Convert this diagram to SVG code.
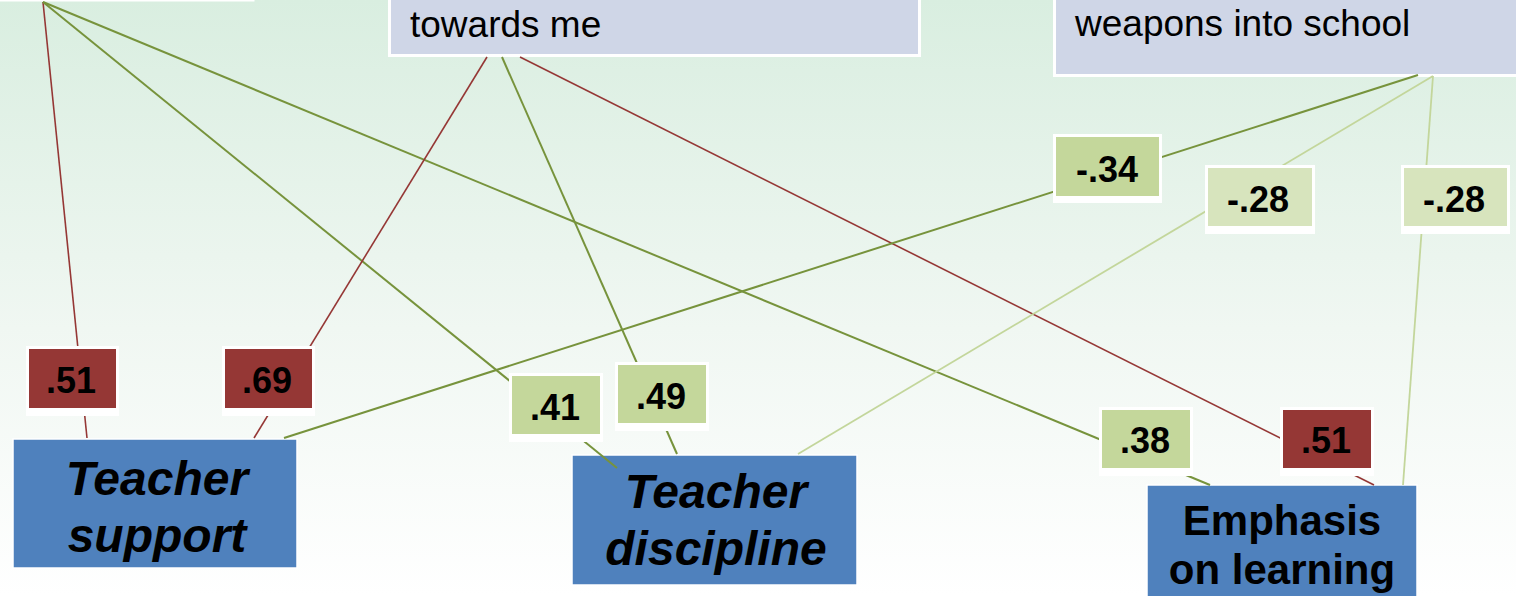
<svg xmlns="http://www.w3.org/2000/svg" width="1516" height="596" viewBox="0 0 1516 596">
  <defs>
    <linearGradient id="bg" x1="0" y1="0" x2="0" y2="1">
      <stop offset="0" stop-color="#D9EEE0"/>
      <stop offset="0.55" stop-color="#F0F7F2"/>
      <stop offset="1" stop-color="#FFFFFF"/>
    </linearGradient>
  </defs>
  <style>
    .src { fill: #CFD6E7; stroke: #FFFFFF; stroke-width: 3; }
    .src-text { font-family: "Liberation Sans", Arial, sans-serif; font-size: 37px; fill: #000; }
    .target { fill: #4F81BD; stroke: #FFFFFF; stroke-width: 1.5; }
    .target-text { font-family: "Liberation Sans", Arial, sans-serif; font-weight: bold; font-size: 48px; fill: #000; text-anchor: middle; }
    .italic { font-style: italic; }
    .small { font-size: 42px; }
    .edge { fill: none; stroke-linecap: butt; }
    .red { stroke: #953735; stroke-width: 1.6; }
    .dark { stroke: #77933C; stroke-width: 2; }
    .light { stroke: #C3D69B; stroke-width: 1.8; }
    .lab-back { fill: #FFFFFF; }
    .lab-red { fill: #953735; }
    .lab-green { fill: #C4D79B; }
    .lab-pale { fill: #D7E4BD; }
    .lab-text { font-family: "Liberation Sans", Arial, sans-serif; font-weight: bold; font-size: 36px; fill: #000; text-anchor: middle; }
  </style>

  <rect x="0" y="0" width="1516" height="596" fill="url(#bg)"/>

  <!-- source items (top) -->
  <g id="node-source-left">
    <rect class="src" x="-5" y="-60" width="258" height="60"/>
  </g>
  <g id="node-source-middle">
    <rect class="src" x="389.5" y="-20" width="530" height="75.5"/>
    <text class="src-text" x="410" y="37">towards me</text>
  </g>
  <g id="node-source-right">
    <rect class="src" x="1054.5" y="-20" width="500" height="95.5"/>
    <text class="src-text" x="1075" y="36">weapons into school</text>
  </g>

  <!-- outcome boxes -->
  <g id="node-teacher-support">
    <rect class="target" x="13" y="439" width="284" height="129"/>
    <text class="target-text italic" x="157" y="495">Teacher</text>
    <text class="target-text italic" x="157" y="552">support</text>
  </g>
  <g id="node-teacher-discipline">
    <rect class="target" x="572" y="455" width="285" height="130"/>
    <text class="target-text italic" x="716" y="508">Teacher</text>
    <text class="target-text italic" x="716" y="565">discipline</text>
  </g>
  <g id="node-emphasis-learning">
    <rect class="target" x="1147" y="485" width="270" height="130"/>
    <text class="target-text small" x="1282" y="535">Emphasis</text>
    <text class="target-text small" x="1282" y="584">on learning</text>
  </g>

  <!-- connectors -->
  <g id="connectors">
    <line class="edge red" x1="43" y1="2" x2="87" y2="438"/>
    <line class="edge dark" x1="43" y1="2" x2="617" y2="468"/>
    <line class="edge dark" x1="43" y1="2" x2="1210" y2="485"/>
    <line class="edge red" x1="487" y1="57" x2="254" y2="438"/>
    <line class="edge dark" x1="502" y1="57" x2="677" y2="454"/>
    <line class="edge red" x1="520" y1="57" x2="1374" y2="485"/>
    <line class="edge dark" x1="1418" y1="75" x2="284" y2="438"/>
    <line class="edge light" x1="1433" y1="76" x2="798" y2="454"/>
    <line class="edge light" x1="1433" y1="76" x2="1403" y2="485"/>
  </g>

  <!-- coefficient labels -->
  <g id="label-051-left">
    <rect class="lab-back" x="26" y="346" width="93" height="70"/>
    <rect class="lab-red" x="29" y="349" width="87" height="59"/>
    <text class="lab-text" x="71" y="393">.51</text>
  </g>
  <g id="label-069">
    <rect class="lab-back" x="222" y="346" width="93" height="70"/>
    <rect class="lab-red" x="225" y="349" width="87" height="59"/>
    <text class="lab-text" x="267" y="393">.69</text>
  </g>
  <g id="label-041">
    <rect class="lab-back" x="509" y="373" width="94" height="69"/>
    <rect class="lab-green" x="512" y="376" width="88" height="58"/>
    <text class="lab-text" x="555" y="420">.41</text>
  </g>
  <g id="label-049">
    <rect class="lab-back" x="615" y="362" width="94" height="69"/>
    <rect class="lab-green" x="618" y="365" width="88" height="58"/>
    <text class="lab-text" x="661" y="409">.49</text>
  </g>
  <g id="label-038">
    <rect class="lab-back" x="1099" y="407" width="94" height="69"/>
    <rect class="lab-green" x="1102" y="410" width="88" height="58"/>
    <text class="lab-text" x="1145" y="453">.38</text>
  </g>
  <g id="label-051-right">
    <rect class="lab-back" x="1280" y="407" width="94" height="69"/>
    <rect class="lab-red" x="1283" y="410" width="88" height="58"/>
    <text class="lab-text" x="1326" y="453">.51</text>
  </g>
  <g id="label-m034">
    <rect class="lab-back" x="1053" y="134" width="109" height="69"/>
    <rect class="lab-green" x="1056" y="137" width="103" height="59"/>
    <text class="lab-text" x="1107" y="182">-.34</text>
  </g>
  <g id="label-m028-mid">
    <rect class="lab-back" x="1205" y="165" width="110" height="69"/>
    <rect class="lab-pale" x="1208" y="168" width="104" height="58"/>
    <text class="lab-text" x="1258" y="212">-.28</text>
  </g>
  <g id="label-m028-right">
    <rect class="lab-back" x="1401" y="165" width="109" height="69"/>
    <rect class="lab-pale" x="1404" y="168" width="103" height="58"/>
    <text class="lab-text" x="1454" y="212">-.28</text>
  </g>
</svg>
